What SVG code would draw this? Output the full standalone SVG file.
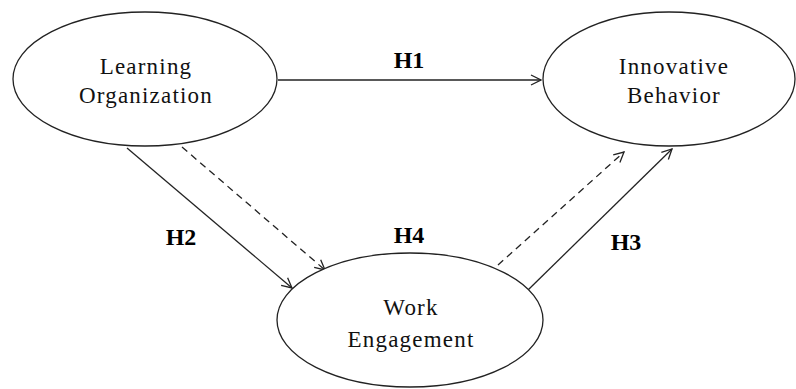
<svg xmlns="http://www.w3.org/2000/svg" width="796" height="389" viewBox="0 0 796 389">
<style>
.node{fill:#fff;stroke:#222;stroke-width:1.3}
.lbl{font-family:"Liberation Serif","DejaVu Serif","Times New Roman",serif;font-size:23px;letter-spacing:1.2px;fill:#111;text-anchor:middle}
.h{font-family:"Liberation Serif","DejaVu Serif","Times New Roman",serif;font-size:24px;font-weight:bold;fill:#000;text-anchor:middle}
.c{fill:none;stroke:#222;stroke-width:1.3}
.d{stroke-dasharray:7,5}
</style>
<defs>
<marker id="arr" viewBox="0 0 12 12" refX="11" refY="6" markerWidth="12" markerHeight="12" markerUnits="userSpaceOnUse" orient="auto">
<path d="M1,1 L11,6 L1,11" fill="none" stroke="#222" stroke-width="1.3"/>
</marker>
</defs>
<rect width="796" height="389" fill="#fff"/>
<g id="connectors">
<line class="c" x1="278" y1="80" x2="541" y2="80" stroke="#555" stroke-width="1.8" marker-end="url(#arr)"/>
<line class="c" x1="127" y1="148" x2="292" y2="288" marker-end="url(#arr)"/>
<line class="c d" x1="182" y1="147" x2="325" y2="270" marker-end="url(#arr)"/>
<line class="c d" x1="498" y1="265" x2="624" y2="152" marker-end="url(#arr)"/>
<line class="c" x1="528" y1="290" x2="672" y2="149" marker-end="url(#arr)"/>
</g>
<g id="learning-organization">
<ellipse class="node" cx="145" cy="79" rx="132" ry="67"/>
<text class="lbl" x="146" y="74">Learning</text>
<text class="lbl" x="146" y="103">Organization</text>
</g>
<g id="innovative-behavior">
<ellipse class="node" cx="669" cy="79" rx="126" ry="67"/>
<text class="lbl" x="674" y="74">Innovative</text>
<text class="lbl" x="674" y="103">Behavior</text>
</g>
<g id="work-engagement">
<ellipse class="node" cx="410" cy="320" rx="133" ry="67"/>
<text class="lbl" x="411" y="315">Work</text>
<text class="lbl" x="411" y="347">Engagement</text>
</g>
<g id="labels">
<text class="h" x="409" y="68">H1</text>
<text class="h" x="181" y="245">H2</text>
<text class="h" x="626" y="250">H3</text>
<text class="h" x="409" y="243">H4</text>
</g>
</svg>
